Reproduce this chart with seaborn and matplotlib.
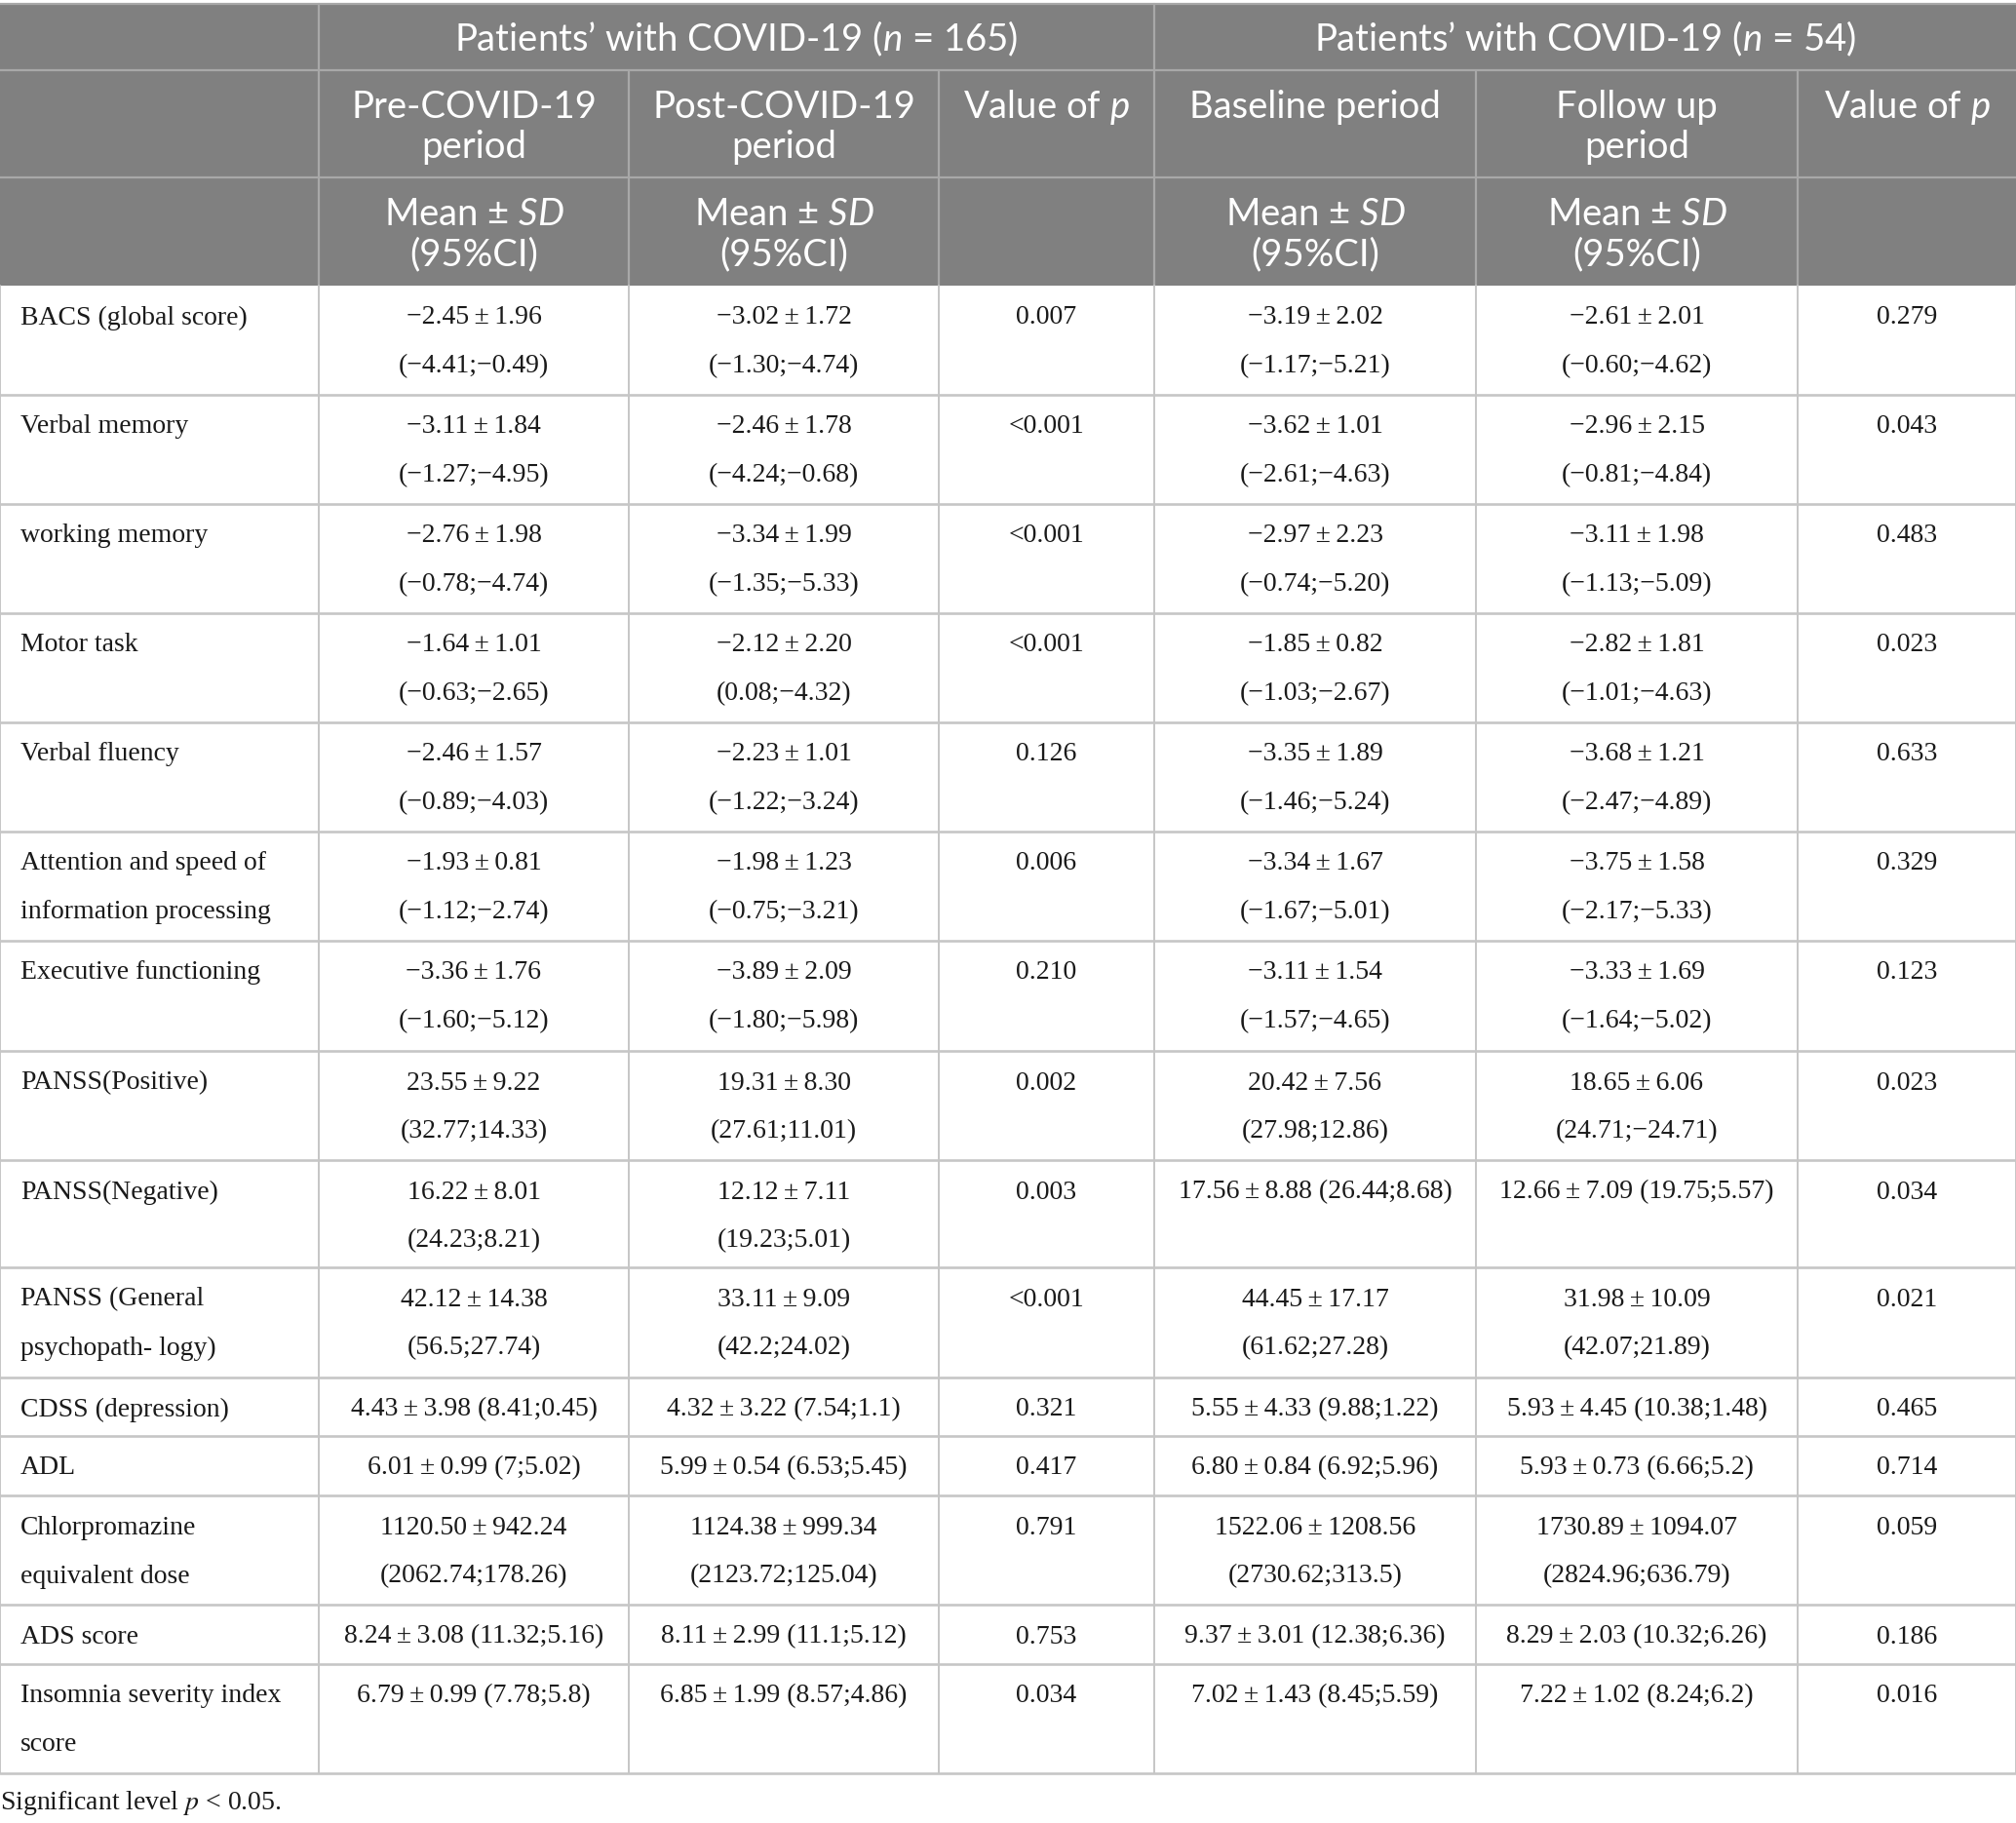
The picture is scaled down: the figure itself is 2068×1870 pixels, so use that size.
import pandas as pd
import seaborn as sns
import matplotlib.pyplot as plt
from matplotlib.patches import Rectangle

# ---- table content ----
group_headers = ["Patients’ with COVID-19 ($n$ = 165)", "Patients’ with COVID-19 ($n$ = 54)"]
period_headers = [["Pre-COVID-19", "period"], ["Post-COVID-19", "period"], ["Value of $p$"],
                  ["Baseline period"], ["Follow up", "period"], ["Value of $p$"]]
stat_header = ["Mean ± $SD$", "(95%CI)"]

measures = [
    ["BACS (global score)"],
    ["Verbal memory"],
    ["working memory"],
    ["Motor task"],
    ["Verbal fluency"],
    ["Attention and speed of", "information processing"],
    ["Executive functioning"],
    ["PANSS(Positive)"],
    ["PANSS(Negative)"],
    ["PANSS (General", "psychopath- logy)"],
    ["CDSS (depression)"],
    ["ADL"],
    ["Chlorpromazine", "equivalent dose"],
    ["ADS score"],
    ["Insomnia severity index", "score"],
]

pre_mean_sd = ["−2.45 ± 1.96", "−3.11 ± 1.84", "−2.76 ± 1.98", "−1.64 ± 1.01", "−2.46 ± 1.57",
               "−1.93 ± 0.81", "−3.36 ± 1.76", "23.55 ± 9.22", "16.22 ± 8.01", "42.12 ± 14.38",
               "4.43 ± 3.98", "6.01 ± 0.99", "1120.50 ± 942.24", "8.24 ± 3.08", "6.79 ± 0.99"]
pre_ci = ["(−4.41;−0.49)", "(−1.27;−4.95)", "(−0.78;−4.74)", "(−0.63;−2.65)", "(−0.89;−4.03)",
          "(−1.12;−2.74)", "(−1.60;−5.12)", "(32.77;14.33)", "(24.23;8.21)", "(56.5;27.74)",
          "(8.41;0.45)", "(7;5.02)", "(2062.74;178.26)", "(11.32;5.16)", "(7.78;5.8)"]

post_mean_sd = ["−3.02 ± 1.72", "−2.46 ± 1.78", "−3.34 ± 1.99", "−2.12 ± 2.20", "−2.23 ± 1.01",
                "−1.98 ± 1.23", "−3.89 ± 2.09", "19.31 ± 8.30", "12.12 ± 7.11", "33.11 ± 9.09",
                "4.32 ± 3.22", "5.99 ± 0.54", "1124.38 ± 999.34", "8.11 ± 2.99", "6.85 ± 1.99"]
post_ci = ["(−1.30;−4.74)", "(−4.24;−0.68)", "(−1.35;−5.33)", "(0.08;−4.32)", "(−1.22;−3.24)",
           "(−0.75;−3.21)", "(−1.80;−5.98)", "(27.61;11.01)", "(19.23;5.01)", "(42.2;24.02)",
           "(7.54;1.1)", "(6.53;5.45)", "(2123.72;125.04)", "(11.1;5.12)", "(8.57;4.86)"]

p_first = ["0.007", "<0.001", "<0.001", "<0.001", "0.126", "0.006", "0.210", "0.002", "0.003",
           "<0.001", "0.321", "0.417", "0.791", "0.753", "0.034"]

base_mean_sd = ["−3.19 ± 2.02", "−3.62 ± 1.01", "−2.97 ± 2.23", "−1.85 ± 0.82", "−3.35 ± 1.89",
                "−3.34 ± 1.67", "−3.11 ± 1.54", "20.42 ± 7.56", "17.56 ± 8.88", "44.45 ± 17.17",
                "5.55 ± 4.33", "6.80 ± 0.84", "1522.06 ± 1208.56", "9.37 ± 3.01", "7.02 ± 1.43"]
base_ci = ["(−1.17;−5.21)", "(−2.61;−4.63)", "(−0.74;−5.20)", "(−1.03;−2.67)", "(−1.46;−5.24)",
           "(−1.67;−5.01)", "(−1.57;−4.65)", "(27.98;12.86)", "(26.44;8.68)", "(61.62;27.28)",
           "(9.88;1.22)", "(6.92;5.96)", "(2730.62;313.5)", "(12.38;6.36)", "(8.45;5.59)"]

follow_mean_sd = ["−2.61 ± 2.01", "−2.96 ± 2.15", "−3.11 ± 1.98", "−2.82 ± 1.81", "−3.68 ± 1.21",
                  "−3.75 ± 1.58", "−3.33 ± 1.69", "18.65 ± 6.06", "12.66 ± 7.09", "31.98 ± 10.09",
                  "5.93 ± 4.45", "5.93 ± 0.73", "1730.89 ± 1094.07", "8.29 ± 2.03", "7.22 ± 1.02"]
follow_ci = ["(−0.60;−4.62)", "(−0.81;−4.84)", "(−1.13;−5.09)", "(−1.01;−4.63)", "(−2.47;−4.89)",
             "(−2.17;−5.33)", "(−1.64;−5.02)", "(24.71;−24.71)", "(19.75;5.57)", "(42.07;21.89)",
             "(10.38;1.48)", "(6.66;5.2)", "(2824.96;636.79)", "(10.32;6.26)", "(8.24;6.2)"]

p_second = ["0.279", "0.043", "0.483", "0.023", "0.633", "0.329", "0.123", "0.023", "0.034",
            "0.021", "0.465", "0.714", "0.059", "0.186", "0.016"]

footnote = "Significant level $p$ < 0.05."

# ---- layout (pixels) ----
W, H = 2068, 1870
col_edges = [0, 327, 645, 963, 1184, 1514, 1844, 2068]
head_edges = [4, 72, 182, 293]
row_edges = [293, 405, 517, 629, 741, 853, 965, 1078, 1190, 1300, 1413, 1473, 1534, 1646, 1707, 1819]
# cells where mean/SD and CI share one line: (row, column)
one_line = {(8, 4), (8, 5)}
for r in (10, 11, 13, 14):
    one_line.update({(r, c) for c in (1, 2, 4, 5)})

sns.set_theme(style="white")
plt.rcParams["mathtext.fontset"] = "custom"
plt.rcParams["mathtext.rm"] = "Lato"
plt.rcParams["mathtext.it"] = "Lato:italic"

HEAD_FONT = "Lato"
BODY_FONT = "Liberation Serif"
head_size = 27.5
body_size = 20
header_grey = "#808080"
header_line = "#a8a8a8"
body_line = "#c6c6c6"

fig = plt.figure(figsize=(W / 100, H / 100), dpi=100)
ax = fig.add_axes([0, 0, 1, 1])
ax.set_xlim(0, W)
ax.set_ylim(H, 0)
ax.axis("off")

# header background
ax.add_patch(Rectangle((0, head_edges[0]), W, head_edges[-1] - head_edges[0],
                       facecolor=header_grey, edgecolor="none"))

# header lines
hl = dict(color=header_line, lw=1.6)
ax.plot([0, W], [head_edges[0]] * 2, **hl)
ax.plot([0, W], [head_edges[1]] * 2, **hl)
ax.plot([0, W], [head_edges[2]] * 2, **hl)
for x in (col_edges[1], col_edges[4]):
    ax.plot([x, x], [head_edges[0], head_edges[-1]], **hl)
for x in (col_edges[2], col_edges[3], col_edges[5], col_edges[6]):
    ax.plot([x, x], [head_edges[1], head_edges[-1]], **hl)

# body lines
for y in row_edges[1:]:
    ax.plot([0, W], [y, y], color=body_line, lw=1.9)
for x in col_edges:
    ax.plot([x, x], [row_edges[0], row_edges[-1]], color=body_line, lw=1.4)

# header text
def head_text(x, y, s):
    ax.text(x, y, s, ha="center", va="center", color="white",
            family=HEAD_FONT, fontsize=head_size)

for g, s in enumerate(group_headers):
    x = (col_edges[1 + 3 * g] + col_edges[4 + 3 * g]) / 2
    head_text(x, (head_edges[0] + head_edges[1]) / 2 + 2, s)

for c, lines in enumerate(period_headers):
    x = (col_edges[c + 1] + col_edges[c + 2]) / 2
    for k, s in enumerate(lines):
        head_text(x, 110 + 41 * k, s)

for c in (0, 1, 3, 4):
    x = (col_edges[c + 1] + col_edges[c + 2]) / 2
    for k, s in enumerate(stat_header):
        head_text(x, 220 + 41 * k, s)

# body text
table = pd.DataFrame({
    "measure": measures,
    "pre": list(zip(pre_mean_sd, pre_ci)),
    "post": list(zip(post_mean_sd, post_ci)),
    "p1": p_first,
    "base": list(zip(base_mean_sd, base_ci)),
    "follow": list(zip(follow_mean_sd, follow_ci)),
    "p2": p_second,
})

def body_text(x, y, s, ha="center"):
    s = s.replace(" ± ", "\u2009±\u2009")
    ax.text(x, y, s, ha=ha, va="center", color="#1a1a1a",
            family=BODY_FONT, fontsize=body_size)

for r, row in table.iterrows():
    top = row_edges[r]
    y1, y2 = top + 33, top + 83
    for k, s in enumerate(row["measure"]):
        body_text(21, y1 + 50 * k, s, ha="left")
    for c, key in enumerate(["pre", "post", "p1", "base", "follow", "p2"], start=1):
        x = (col_edges[c] + col_edges[c + 1]) / 2
        val = row[key]
        if isinstance(val, str):
            body_text(x, y1, val)
        elif (r, c) in one_line:
            body_text(x, y1, val[0] + " " + val[1])
        else:
            body_text(x, y1, val[0])
            body_text(x, y2, val[1])

ax.text(0, 1849, footnote, ha="left", va="center", color="#1a1a1a",
        family=BODY_FONT, fontsize=body_size, math_fontfamily="stix")

fig.savefig("out.png", dpi=100, facecolor="white")
